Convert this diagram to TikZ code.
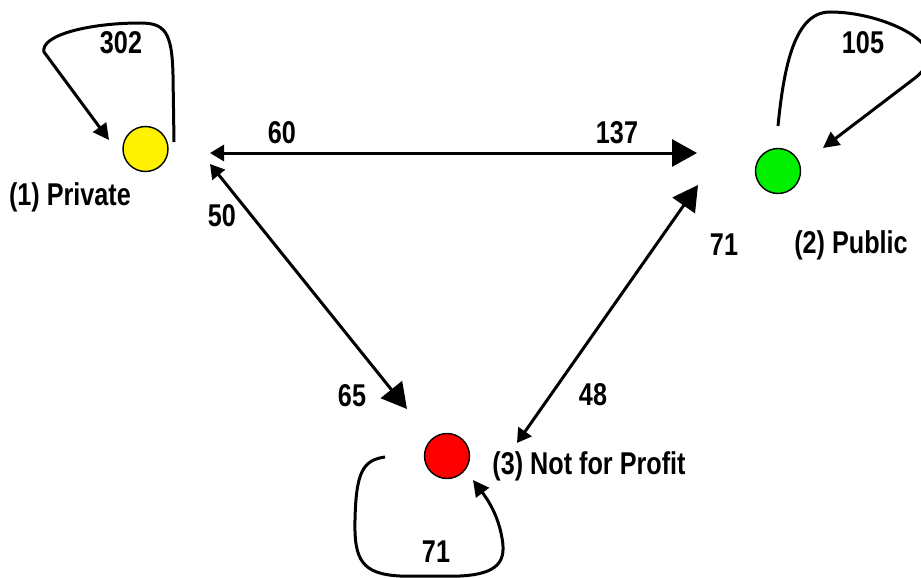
\documentclass[tikz,border=0pt]{standalone}
\usepackage{fontspec}
\setmainfont{Liberation Sans}[FakeStretch=0.8]
\usetikzlibrary{arrows.meta}
\begin{document}
\begin{tikzpicture}[x=1pt,y=-1pt,
  dot/.style={circle,draw=black,line width=1.4pt,minimum size=45pt,inner sep=0pt},
  lbl/.style={font=\fontsize{31.5}{36}\selectfont\bfseries,inner sep=0pt},
  edge/.style={line width=3pt},
  sm/.tip={Triangle[length=14pt,width=16pt]},
  lg/.tip={Triangle[length=25pt,width=27pt]},
  md/.tip={Triangle[length=16pt,width=16pt]}]
\useasboundingbox (0,0) rectangle (921,578);
% nodes
\node[dot,fill=yellow] (p) at (145.5,149) {};
\node[dot,fill={rgb,255:red,0;green,240;blue,0}] (u) at (778,171) {};
\node[dot,fill=red] (n) at (447,456) {};
% labels
\node[lbl] (pl) at (70,197) {(1) Private};
\node[lbl] (ul) at (851,245) {(2) Public};
\node[lbl] (nl) at (589,466) {(3) Not for Profit};
\node[lbl] (l302) at (121,43) {302};
\node[lbl] (l105) at (863,43) {105};
\node[lbl] (l60) at (282,133) {60};
\node[lbl] (l137) at (617,133) {137};
\node[lbl] (l50) at (222,216) {50};
\node[lbl] (l71a) at (724,245) {71};
\node[lbl] (l65) at (352,396) {65};
\node[lbl] (l48) at (593,395) {48};
\node[lbl] (l71b) at (436,552) {71};
% endpoints
\coordinate (a1) at (210,153);
\coordinate (a2) at (697,153);
\coordinate (b1) at (210,164);
\coordinate (b2) at (407,409);
\coordinate (c1) at (698,185);
\coordinate (c2) at (517,443);
% main connectors
\draw[edge,sm-lg] (a1) -- (a2);
\draw[edge,sm-lg] (b1) -- (b2);
\draw[edge,sm-lg] (c2) -- (c1);
% loops
\coordinate (ps) at (174,142);
\coordinate (pe) at (109,140);
\draw[edge,-md] (ps) -- (173,75) .. controls (172,32) and (165,23) .. (140,23)
  .. controls (90,23) and (40,35) .. (44,52) -- (pe);
\coordinate (us) at (778,126);
\coordinate (ue) at (823,148);
\draw[edge,-md] (us) .. controls (784,65) and (795,12) .. (830,12)
  .. controls (870,12) and (915,30) .. (926,48)
  .. controls (932,60) and (925,70) .. (915,78) -- (ue);
\coordinate (ns) at (385,457);
\coordinate (ne) at (473,480);
\draw[edge,-md] (ns) .. controls (363,460) and (356,472) .. (355,520)
  .. controls (354,560) and (362,574) .. (400,576) -- (460,576)
  .. controls (500,574) and (506,560) .. (502,538) .. controls (498,515) and (488,500) .. (ne);
\end{tikzpicture}
\end{document}
